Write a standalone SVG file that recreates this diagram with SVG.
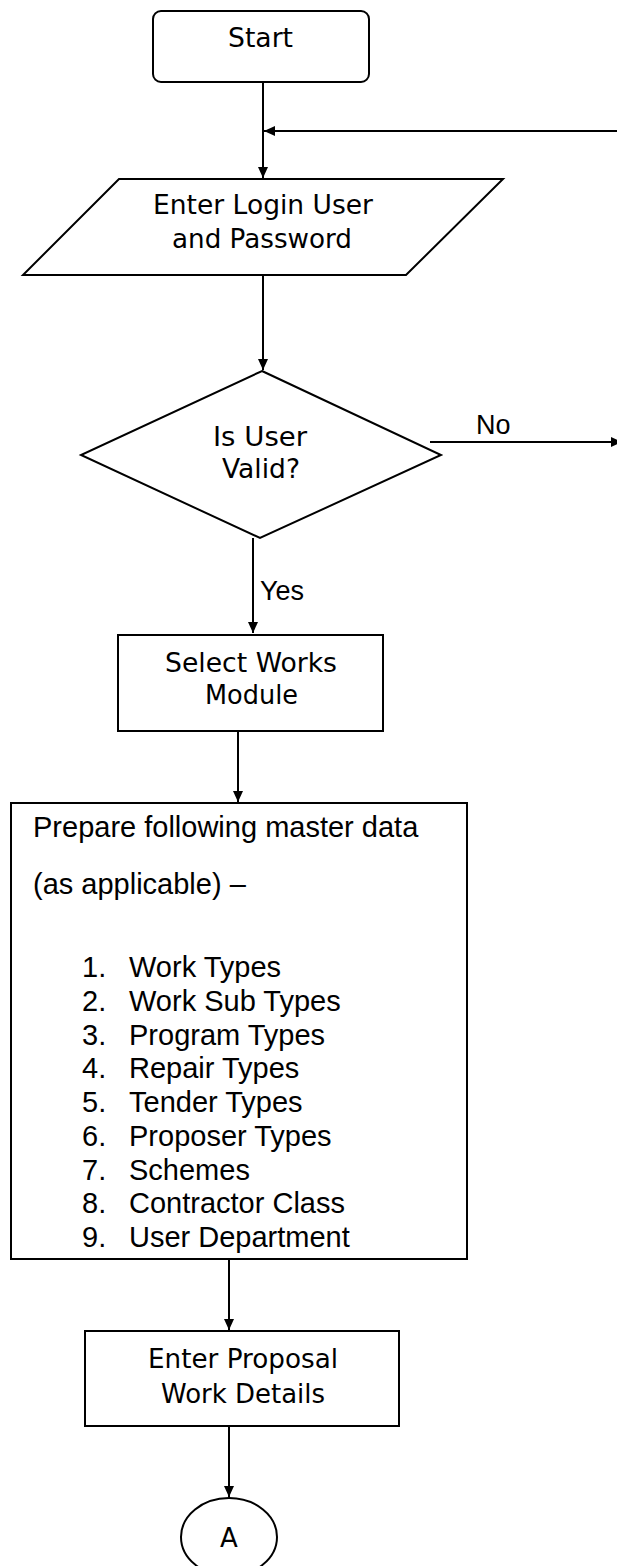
<svg xmlns="http://www.w3.org/2000/svg" width="617" height="1566" viewBox="0 0 617 1566">
  <style>
    .shape { fill: #ffffff; stroke: #000000; stroke-width: 2; }
    .edge { fill: none; stroke: #000000; stroke-width: 2; }
    .label { font-family: "DejaVu Sans", Verdana, sans-serif; font-size: 26px; fill: #000000; }
    .body { font-family: "Liberation Sans", Arial, sans-serif; font-size: 29px; fill: #000000; }
    .cond { font-family: "Liberation Sans", Arial, sans-serif; font-size: 27px; fill: #000000; }
  </style>
  <defs>
    <marker id="arrow" markerUnits="userSpaceOnUse" markerWidth="12" markerHeight="10" refX="11" refY="5" orient="auto">
      <path d="M0,0 L11,5 L0,10 z" fill="#000000"/>
    </marker>
  </defs>

  <rect width="617" height="1566" fill="#ffffff"/>

  <!-- connectors -->
  <g id="connectors">
    <line class="edge" x1="263" y1="82" x2="263" y2="178" marker-end="url(#arrow)"/>
    <line class="edge" x1="617" y1="131" x2="264" y2="131" marker-end="url(#arrow)"/>
    <line class="edge" x1="263" y1="275" x2="263" y2="370" marker-end="url(#arrow)"/>
    <line class="edge" x1="430" y1="442" x2="622" y2="442" marker-end="url(#arrow)"/>
    <text class="cond" x="476" y="434">No</text>
    <line class="edge" x1="253" y1="538" x2="253" y2="633" marker-end="url(#arrow)"/>
    <text class="cond" x="260" y="600">Yes</text>
    <line class="edge" x1="238" y1="731" x2="238" y2="802" marker-end="url(#arrow)"/>
    <line class="edge" x1="229" y1="1259" x2="229" y2="1330" marker-end="url(#arrow)"/>
    <line class="edge" x1="229" y1="1426" x2="229" y2="1497" marker-end="url(#arrow)"/>
  </g>

  <!-- start terminal -->
  <g id="start">
    <rect class="shape" x="153" y="11" width="216" height="71" rx="8" ry="8"/>
    <text class="label" x="228" y="47" textLength="65" lengthAdjust="spacingAndGlyphs">Start</text>
  </g>

  <!-- login input -->
  <g id="login">
    <polygon class="shape" points="119,179 503,179 406,275 23,275"/>
    <text class="label" x="153" y="214" textLength="220" lengthAdjust="spacingAndGlyphs">Enter Login User</text>
    <text class="label" x="172" y="248" textLength="180" lengthAdjust="spacingAndGlyphs">and Password</text>
  </g>

  <!-- validity decision -->
  <g id="valid">
    <polygon class="shape" points="262,371 441,455 260,538 81,455"/>
    <text class="label" x="213" y="446" textLength="94" lengthAdjust="spacingAndGlyphs">Is User</text>
    <text class="label" x="222" y="478" textLength="78" lengthAdjust="spacingAndGlyphs">Valid?</text>
  </g>

  <!-- module selection -->
  <g id="select-module">
    <rect class="shape" x="118" y="635" width="265" height="96"/>
    <text class="label" x="165" y="672" textLength="172" lengthAdjust="spacingAndGlyphs">Select Works</text>
    <text class="label" x="205" y="704" textLength="93" lengthAdjust="spacingAndGlyphs">Module</text>
  </g>

  <!-- master data -->
  <g id="master-data">
    <rect class="shape" x="11" y="803" width="456" height="456"/>
    <text class="body" x="33" y="837">Prepare following master data</text>
    <text class="body" x="33" y="894">(as applicable) –</text>
    <g class="body">
      <text x="82" y="977">1.</text><text x="129" y="977">Work Types</text>
      <text x="82" y="1011">2.</text><text x="129" y="1011">Work Sub Types</text>
      <text x="82" y="1045">3.</text><text x="129" y="1045">Program Types</text>
      <text x="82" y="1078">4.</text><text x="129" y="1078">Repair Types</text>
      <text x="82" y="1112">5.</text><text x="129" y="1112">Tender Types</text>
      <text x="82" y="1146">6.</text><text x="129" y="1146">Proposer Types</text>
      <text x="82" y="1180">7.</text><text x="129" y="1180">Schemes</text>
      <text x="82" y="1213">8.</text><text x="129" y="1213">Contractor Class</text>
      <text x="82" y="1247">9.</text><text x="129" y="1247">User Department</text>
    </g>
  </g>

  <!-- proposal entry -->
  <g id="proposal">
    <rect class="shape" x="85" y="1331" width="314" height="95"/>
    <text class="label" x="148" y="1368" textLength="190" lengthAdjust="spacingAndGlyphs">Enter Proposal</text>
    <text class="label" x="161" y="1403" textLength="164" lengthAdjust="spacingAndGlyphs">Work Details</text>
  </g>

  <!-- off-page connector -->
  <g id="connector-a">
    <ellipse class="shape" cx="229" cy="1537" rx="48" ry="39"/>
    <text class="label" x="229" y="1547" text-anchor="middle">A</text>
  </g>
</svg>
